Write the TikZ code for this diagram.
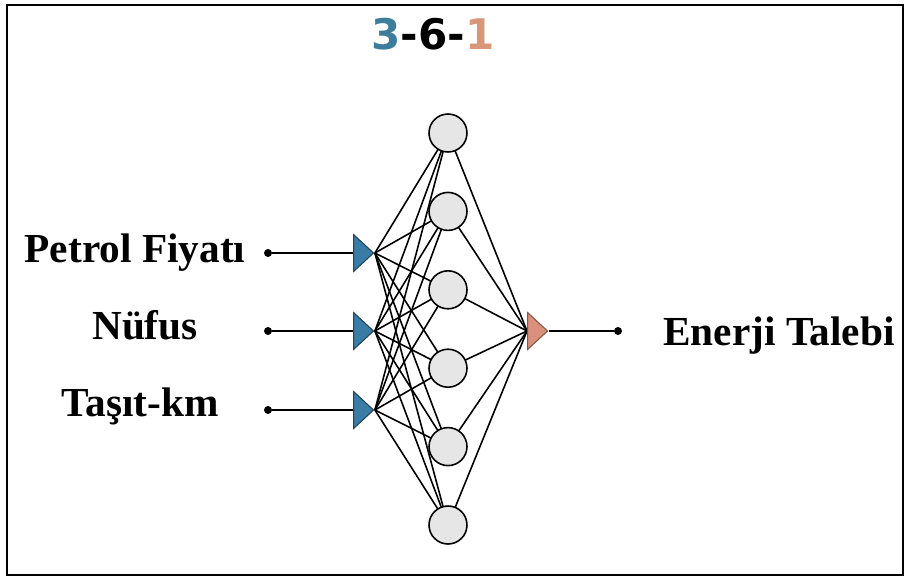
\documentclass[tikz,border=0pt]{standalone}
\usepackage{fontspec}
\setmainfont{Liberation Serif}
\newfontfamily\titlefont{DejaVu Sans}
\usetikzlibrary{positioning,shapes.geometric,backgrounds}
\definecolor{inblue}{HTML}{3A7CA5}
\definecolor{outsalmon}{HTML}{D9907C}
\definecolor{titleblue}{HTML}{3C7D9C}
\definecolor{titlesalmon}{HTML}{D9977A}
\definecolor{nodegray}{HTML}{E6E6E6}

\begin{document}
\begin{tikzpicture}[x=0.02cm,y=-0.02cm,font=\fontsize{23.5}{28}\selectfont\bfseries]
  \tikzset{hn/.style={circle,draw=black,fill=nodegray,line width=0.9pt,minimum size=0.76cm,inner sep=0pt},
    tri/.style={isosceles triangle,isosceles triangle stretches,minimum width=0.74cm,minimum height=0.4cm,inner sep=0pt,anchor=west,line width=0.6pt},
    intri/.style={tri,draw=inblue!55!black,fill=inblue},
    outtri/.style={tri,draw=outsalmon!60!black,fill=outsalmon},
    tdot/.style={circle,fill=black,minimum size=0.16cm,inner sep=0pt},
    lbl/.style={anchor=base,inner sep=0pt},
    lnk/.style={line width=0.9pt}}
  \useasboundingbox (0,0) rectangle (909,579);
  \draw[line width=1.1pt] (7,5) rectangle (903,575);
  % title
  \node[lbl,font=\titlefont\fontsize{24}{28}\selectfont\bfseries] (title) at (433,49)
    {\textcolor{titleblue}{3}-6-\textcolor{titlesalmon}{1}};
  % inputs
  \node[intri] (i1) at (353,253) {};
  \node[intri] (i2) at (353,331) {};
  \node[intri] (i3) at (353,410) {};
  \node[tdot] (d1) at (268,253) {};
  \node[tdot] (d2) at (268,331) {};
  \node[tdot] (d3) at (268,410) {};
  \node[lbl] (l1) at (135,262) {Petrol Fiyatı};
  \node[lbl] (l2) at (145,339) {Nüfus};
  \node[lbl] (l3) at (140,416) {Taşıt-km};
  % hidden layer
  \foreach \k in {1,...,6}
    \node[hn] (h\k) at (448,{133+78.4*(\k-1)}) {};
  % output
  \node[outtri] (o) at (527,331) {};
  \node[tdot] (d4) at (618,331) {};
  \node[lbl,anchor=base west] (l4) at (663,345) {Enerji Talebi};
  \draw[lnk] (d1) -- (i1.west);
  \draw[lnk] (d2) -- (i2.west);
  \draw[lnk] (d3) -- (i3.west);
  \draw[lnk] (o.apex) -- (d4);
  \begin{pgfonlayer}{background}
    \foreach \i in {1,2,3}
      \foreach \k in {1,...,6}
        \draw[lnk] (i\i.apex) -- (h\k.center);
    \foreach \k in {1,...,6}
      \draw[lnk] (h\k.center) -- (o.west);
  \end{pgfonlayer}
\end{tikzpicture}
\end{document}
